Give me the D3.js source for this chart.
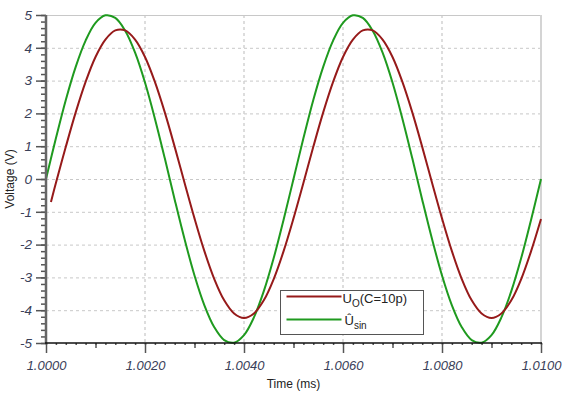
<!DOCTYPE html>
<html>
<head>
<meta charset="utf-8">
<script src="https://cdn.jsdelivr.net/npm/d3@7"></script>
<style>
  body { margin: 0; background: #fff; }
  svg { display: block; font-family: Arial, "Liberation Sans", sans-serif; }
</style>
</head>
<body>
<svg id="chart" width="577" height="395"></svg>
<script>
// time (ms) sampled every 0.0002
let time = d3.range(0, 51).map(i => 1 + i * 0.0002)

// green: Û_sin
let usin = [0, 1.24, 2.41, 3.42, 4.22, 4.76, 4.99, 4.91, 4.52, 3.85, 2.94, 1.84, 0.63,
  -0.63, -1.84, -2.94, -3.85, -4.52, -4.91, -4.99, -4.76, -4.22, -3.42, -2.41, -1.24,
  0, 1.24, 2.41, 3.42, 4.22, 4.76, 4.99, 4.91, 4.52, 3.85, 2.94, 1.84, 0.63,
  -0.63, -1.84, -2.94, -3.85, -4.52, -4.91, -4.99, -4.76, -4.22, -3.42, -2.41, -1.24, 0]

// red: U_O (C=10p), starts a little after 1.0000
let timeUo = [1.0001].concat(time.slice(1))
let uo = [-0.70, -0.12, 0.98, 2.03, 2.96, 3.72, 4.25, 4.53, 4.53, 4.25, 3.72, 2.96, 2.03,
  0.98, -0.12, -1.20, -2.20, -3.05, -3.70, -4.10, -4.24, -4.10, -3.70, -3.05, -2.20,
  -1.20, -0.12, 0.98, 2.03, 2.96, 3.72, 4.25, 4.53, 4.53, 4.25, 3.72, 2.96, 2.03,
  0.98, -0.12, -1.20, -2.20, -3.05, -3.70, -4.10, -4.24, -4.10, -3.70, -3.05, -2.20, -1.22]

let xMajor = d3.range(0, 6).map(i => 1 + i * 0.002)
let yMajor = d3.range(-5, 6)

let svg = d3.select("#chart")
let pLeft = 46, pRight = 541, pTop = 15, pBottom = 343

let x = d3.scaleLinear().domain([1.0, 1.01]).range([pLeft, pRight])
let y = d3.scaleLinear().domain([-5, 5]).range([pBottom, pTop])

// grid
let grid = svg.append("g")
grid.selectAll(".hg")
    .data(yMajor.filter(v => v > -5 && v < 5))
    .enter()
    .append("line")
    .attr("x1", pLeft).attr("x2", pRight)
    .attr("y1", d => y(d) + 0.5).attr("y2", d => y(d) + 0.5)
    .style("stroke", "#c8c8c8")
    .style("stroke-dasharray", "3,3")
grid.selectAll(".vg")
    .data(xMajor.slice(1, -1))
    .enter()
    .append("line")
    .attr("x1", d => x(d)).attr("x2", d => x(d))
    .attr("y1", pTop).attr("y2", pBottom)
    .style("stroke", "#d2d2d2")
    .style("stroke-width", 1.5)
    .style("stroke-dasharray", "3,3")
grid.append("line")
    .attr("x1", pLeft).attr("x2", pRight).attr("y1", pTop + 0.5).attr("y2", pTop + 0.5)
    .style("stroke", "#c8c8c8")
grid.append("line")
    .attr("x1", pRight).attr("x2", pRight).attr("y1", pTop).attr("y2", pBottom)
    .style("stroke", "#d4d4d4").style("stroke-width", 2)

// curves
let line = d3.line().curve(d3.curveCatmullRom)
svg.append("path")
    .datum(time.map((t, i) => [x(t), y(usin[i])]))
    .attr("d", line)
    .style("fill", "none")
    .style("stroke", "#1f9a1f")
    .style("stroke-width", 2)
svg.append("path")
    .datum(timeUo.map((t, i) => [x(t), y(uo[i])]))
    .attr("d", line)
    .style("fill", "none")
    .style("stroke", "#961a1a")
    .style("stroke-width", 2)

// y axis
let yAxis = svg.append("g").attr("transform", "translate(" + pLeft + ",0)")
yAxis.append("g").call(d3.axisLeft(y).tickValues(d3.range(-50, 51, 2).map(v => v / 10)).tickSize(5).tickFormat(""))
yAxis.append("g").call(d3.axisLeft(y).tickValues(yMajor).tickSize(10).tickPadding(4).tickFormat(d => String(d)))
yAxis.selectAll(".domain").remove()
yAxis.selectAll("line").style("stroke", "#555").style("stroke-width", 1.5)
yAxis.append("line").attr("y1", pTop).attr("y2", pBottom + 1)
     .style("stroke", "#666").style("stroke-width", 2.5)
yAxis.selectAll("text")
     .style("font-size", "13.5px").style("font-style", "italic")
     .style("fill", "#3a4058")

// x axis
let xAxis = svg.append("g").attr("transform", "translate(0," + pBottom + ")")
xAxis.append("g").call(d3.axisBottom(x).tickValues(d3.range(0, 51).map(i => 1 + i * 0.0002)).tickSize(2).tickFormat(""))
xAxis.append("g").call(d3.axisBottom(x).tickValues(d3.range(0, 5).map(i => 1.001 + i * 0.002)).tickSize(5).tickFormat(""))
xAxis.append("g").call(d3.axisBottom(x).tickValues(xMajor).tickSize(10).tickPadding(8).tickFormat(d3.format(".4f")))
xAxis.selectAll(".domain").remove()
xAxis.selectAll("line").style("stroke", "#555").style("stroke-width", 1.5)
xAxis.append("line").attr("x1", pLeft - 1).attr("x2", pRight + 1)
     .style("stroke", "#111").style("stroke-width", 1.5)
xAxis.selectAll("text")
     .style("font-size", "13px").style("font-style", "italic").style("fill", "#3a4058")

// axis titles
svg.append("text")
   .attr("x", (pLeft + pRight) / 2).attr("y", 388)
   .attr("text-anchor", "middle")
   .style("font-size", "12px").style("fill", "#222")
   .text("Time (ms)")
svg.append("text")
   .attr("transform", "translate(14," + y(0) + ") rotate(-90)")
   .attr("text-anchor", "middle")
   .style("font-size", "12px").style("fill", "#222")
   .text("Voltage (V)")

// legend
let legend = svg.append("g").attr("transform", "translate(280.5,290.5)")
legend.append("rect").attr("width", 143).attr("height", 44)
      .style("fill", "#fff").style("stroke", "#555")
legend.append("line").attr("x1", 6).attr("x2", 61).attr("y1", 6).attr("y2", 6)
      .style("stroke", "#961a1a").style("stroke-width", 2)
legend.append("line").attr("x1", 6).attr("x2", 61).attr("y1", 29).attr("y2", 29)
      .style("stroke", "#1f9a1f").style("stroke-width", 2)
let t1 = legend.append("text").attr("x", 62).attr("y", 12).style("font-size", "13px").style("fill", "#222")
t1.append("tspan").text("U")
t1.append("tspan").attr("dy", 4).style("font-size", "10px").text("O")
t1.append("tspan").attr("dy", -4).text("(C=10p)")
let t2 = legend.append("text").attr("x", 64).attr("y", 34).style("font-size", "13px").style("fill", "#222")
t2.append("tspan").text("Û")
t2.append("tspan").attr("dy", 4).style("font-size", "10px").text("sin")
</script>
</body>
</html>
